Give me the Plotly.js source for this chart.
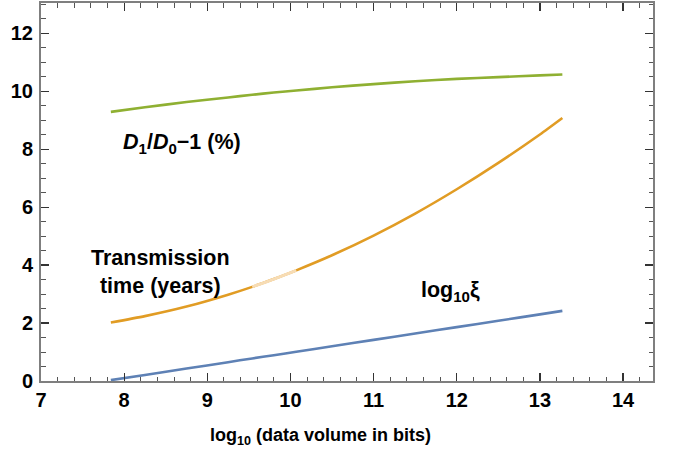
<!DOCTYPE html>
<html>
<head>
<meta charset="utf-8">
<script src="https://cdn.plot.ly/plotly-3.0.1.min.js"></script>
<style>html,body{margin:0;padding:0;background:#fff;}#chart{width:678px;height:452px;}</style>
</head>
<body>
<div id="chart"></div>
<script>
// log10(data volume in bits)
const xVals = [7.84, 8.25, 8.75, 9.25, 9.54, 9.8, 10.07, 10.5, 11, 11.5, 12, 12.5, 13, 13.27];
// log10 xi
const logXi = [0.03, 0.21, 0.43, 0.65, 0.78, 0.89, 1.01, 1.20, 1.42, 1.64, 1.86, 2.08, 2.30, 2.42];
// Transmission time (years)
const transTime = [2.02, 2.24, 2.57, 2.98, 3.25, 3.52, 3.82, 4.34, 5.02, 5.78, 6.62, 7.53, 8.51, 9.08];
// D1/D0 - 1 (%)
const dRatio = [9.29, 9.45, 9.63, 9.79, 9.88, 9.96, 10.03, 10.14, 10.25, 10.35, 10.43, 10.49, 10.55, 10.58];
// range of transmission-time curve drawn faded behind its label
const fadeRange = [9.54, 10.07];

const xTicks = [7, 8, 9, 10, 11, 12, 13, 14];
const yTicks = [0, 2, 4, 6, 8, 10, 12];

const fadeX = [], fadeY = [];
xVals.forEach((x, i) => { if (x >= fadeRange[0] && x <= fadeRange[1]) { fadeX.push(x); fadeY.push(transTime[i]); } });

const FONT = 'Liberation Sans, Arial, sans-serif';
const lineW = 2.6;
const traces = [
  {x: xVals, y: logXi, mode: 'lines', line: {color: '#5e81b5', width: lineW, shape: 'spline', smoothing: 0.6}, hoverinfo: 'skip'},
  {x: xVals, y: transTime, mode: 'lines', line: {color: '#e19c24', width: lineW, shape: 'spline', smoothing: 0.6}, hoverinfo: 'skip'},
  {x: fadeX, y: fadeY, mode: 'lines', line: {color: '#f7dcb4', width: lineW + 0.4, shape: 'spline', smoothing: 0.6}, hoverinfo: 'skip'},
  {x: xVals, y: dRatio, mode: 'lines', line: {color: '#8fb032', width: lineW, shape: 'spline', smoothing: 0.6}, hoverinfo: 'skip'}
];

const axisCommon = {
  showgrid: false, zeroline: false, showline: true, linecolor: '#7f7f7f', linewidth: 2,
  mirror: 'ticks', ticks: 'inside', ticklen: 8, tickwidth: 1.3, tickcolor: '#333',
  tickfont: {family: FONT, size: 20, color: '#000', weight: 'bold'}
};

const annFont = {family: FONT, size: 21.5, color: '#000'};
const layout = {
  width: 678, height: 452,
  margin: {l: 41, r: 25, t: 3, b: 71},
  paper_bgcolor: '#fff', plot_bgcolor: '#fff',
  showlegend: false,
  xaxis: Object.assign({}, axisCommon, {
    range: [7, 14.36], tickvals: xTicks, ticktext: xTicks.map(String),
    minor: {dtick: 0.2, tick0: 7, ticks: 'inside', ticklen: 4.5, tickwidth: 1, tickcolor: '#555'}
  }),
  yaxis: Object.assign({}, axisCommon, {
    range: [0, 13.05], tickvals: yTicks, ticktext: yTicks.map(String),
    minor: {dtick: 0.5, tick0: 0, ticks: 'inside', ticklen: 4.5, tickwidth: 1, tickcolor: '#555'},
    ticklabelstandoff: 2
  }),
  annotations: [
    {x: 0.456, y: -0.148, xref: 'paper', yref: 'paper', showarrow: false, yanchor: 'middle',
     text: '<b>log<sub>10</sub> (data volume in bits)</b>', font: {family: FONT, size: 18, color: '#000'}},
    {x: 8.70, y: 8.21, xref: 'x', yref: 'y', showarrow: false,
     text: '<b><i>D</i><sub>1</sub>/<i>D</i><sub>0</sub>\u22121 (%)</b>', font: annFont},
    {x: 8.44, y: 3.75, xref: 'x', yref: 'y', showarrow: false, align: 'center',
     text: '<b>Transmission<br>time (years)</b>', font: annFont},
    {x: 11.92, y: 3.1, xref: 'x', yref: 'y', showarrow: false,
     text: '<b>log<sub>10</sub>\u03be</b>', font: annFont}
  ]
};

Plotly.newPlot('chart', traces, layout, {staticPlot: true, displayModeBar: false});
</script>
</body>
</html>
